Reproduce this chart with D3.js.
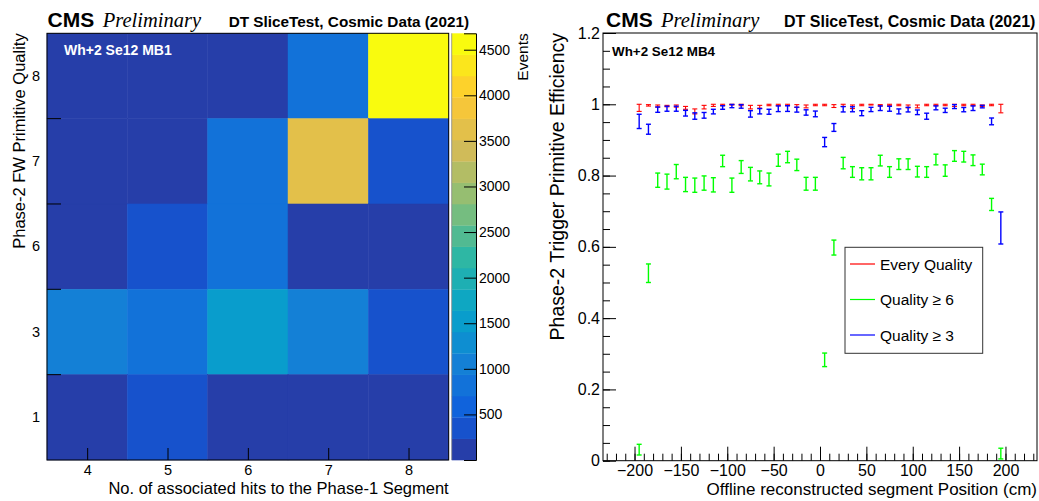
<!DOCTYPE html>
<html>
<head>
<meta charset="utf-8">
<script src="https://cdn.jsdelivr.net/npm/d3@7"></script>
<style>
  body { margin: 0; background: #fff; }
  svg { display: block; font-family: "Liberation Sans", Arial, Helvetica, sans-serif; }
</style>
</head>
<body>
<svg id="chart" width="1039" height="501"></svg>
<script>
// ---- Left panel: hits vs quality (events per cell) ----
const hitBins = [4, 5, 6, 7, 8];
const qualityLabels = ["8", "7", "6", "3", "1"];
// one row per quality label, one column per hit bin
const events = [
  [60, 40, 110, 820, 4680],
  [30, 90, 800, 3650, 380],
  [20, 340, 850, 150, 180],
  [1050, 780, 1520, 1080, 330],
  [40, 360, 120, 90, 140],
];
const eventsMax = 4680;
const colorTicks = [500, 1000, 1500, 2000, 2500, 3000, 3500, 4000, 4500];

// ---- Right panel: efficiency vs segment position ----
const positions = [-195, -185, -175, -165, -155, -145, -135, -125, -115, -105,
  -95, -85, -75, -65, -55, -45, -35, -25, -15, -5,
  5, 15, 25, 35, 45, 55, 65, 75, 85, 95,
  105, 115, 125, 135, 145, 155, 165, 175, 185, 195];

const effEvery = [0.990, 0.997, 0.995, 0.995, 0.995, 0.990, 0.980, 0.992, 0.997, 0.998,
  0.999, 0.998, 0.992, 0.993, 0.998, 0.998, 0.998, 0.995, 0.994, 0.998,
  0.998, 0.995, 0.997, 0.993, 0.998, 0.999, 0.997, 0.998, 0.998, 0.994,
  0.994, 0.998, 0.998, 0.998, 0.997, 0.998, 0.998, 0.996, 0.998, 0.988];
const errEvery = [0.010, 0.002, 0.003, 0.002, 0.003, 0.004, 0.007, 0.005, 0.003, 0.002,
  0.001, 0.002, 0.005, 0.004, 0.002, 0.002, 0.002, 0.004, 0.004, 0.002,
  0.002, 0.004, 0.003, 0.005, 0.002, 0.001, 0.002, 0.002, 0.002, 0.004,
  0.004, 0.002, 0.002, 0.002, 0.003, 0.002, 0.002, 0.002, 0.002, 0.012];

const effQ6 = [0.031, 0.526, 0.787, 0.783, 0.811, 0.775, 0.773, 0.779, 0.774, 0.841,
  0.773, 0.824, 0.804, 0.795, 0.789, 0.843, 0.852, 0.830, 0.777, 0.777,
  0.283, 0.598, 0.835, 0.810, 0.805, 0.805, 0.842, 0.810, 0.832, 0.832,
  0.811, 0.810, 0.845, 0.814, 0.855, 0.853, 0.843, 0.817, 0.719, 0.020];
const errQ6 = [0.015, 0.026, 0.020, 0.021, 0.020, 0.020, 0.020, 0.020, 0.020, 0.016,
  0.020, 0.018, 0.019, 0.018, 0.018, 0.017, 0.016, 0.016, 0.018, 0.018,
  0.019, 0.021, 0.016, 0.015, 0.017, 0.017, 0.015, 0.015, 0.015, 0.015,
  0.015, 0.015, 0.015, 0.016, 0.015, 0.015, 0.015, 0.015, 0.017, 0.015];

const effQ3 = [0.952, 0.930, 0.985, 0.9875, 0.9875, 0.975, 0.967, 0.969, 0.9795, 0.991,
  0.995, 0.994, 0.973, 0.9805, 0.979, 0.9875, 0.988, 0.985, 0.977, 0.973,
  0.894, 0.935, 0.986, 0.986, 0.975, 0.9855, 0.989, 0.9875, 0.980, 0.985,
  0.9775, 0.9665, 0.990, 0.983, 0.9935, 0.985, 0.989, 0.9935, 0.952, 0.653];
const errQ3 = [0.020, 0.014, 0.0075, 0.007, 0.007, 0.008, 0.009, 0.008, 0.0065, 0.005,
  0.0045, 0.005, 0.009, 0.0075, 0.007, 0.008, 0.008, 0.007, 0.0075, 0.008,
  0.013, 0.011, 0.0075, 0.007, 0.007, 0.006, 0.0065, 0.007, 0.007, 0.0065,
  0.0065, 0.0085, 0.0055, 0.006, 0.0055, 0.006, 0.0065, 0.0035, 0.0095, 0.045];

const seriesNames = ["Every Quality", "Quality \u2265 6", "Quality \u2265 3"];
const seriesColors = ["#ff0000", "#00ff00", "#0000ff"];

const posTicks = [-200, -150, -100, -50, 0, 50, 100, 150, 200];
const effTicks = [0, 0.2, 0.4, 0.6, 0.8, 1, 1.2];

// ROOT kBird palette stops
const birdStops = [0.0, 0.125, 0.25, 0.375, 0.5, 0.625, 0.75, 0.875, 1.0];
const birdRed = [0.2082, 0.0592, 0.0780, 0.0232, 0.1802, 0.5301, 0.8186, 0.9956, 0.9764];
const birdGreen = [0.1664, 0.3599, 0.5041, 0.6419, 0.7178, 0.7492, 0.7328, 0.7862, 0.9832];
const birdBlue = [0.5293, 0.8684, 0.8385, 0.7914, 0.6425, 0.4662, 0.3499, 0.1968, 0.0539];

const svg = d3.select("#chart");
const font = "\"Liberation Sans\", Arial, Helvetica, sans-serif";

//Palette with 20 contour levels like ROOT's COLZ
const birdScale = d3.scaleLinear()
  .domain(birdStops)
  .range(birdStops.map((s, i) => d3.rgb(birdRed[i] * 255, birdGreen[i] * 255, birdBlue[i] * 255)))
  .interpolate(d3.interpolateRgb);
const nContours = 20;
const contourOf = (v) => Math.min(nContours - 1, Math.floor((v / eventsMax) * nContours));
const contourColor = (k) => birdScale((k + 0.99) / nContours);

// ================= LEFT PANEL =================
const L = { x0: 47, x1: 448.7, y0: 33.3, y1: 460 };
const xHits = d3.scaleLinear().domain([3.5, 8.5]).range([L.x0, L.x1]);
const yQual = d3.scaleBand().domain(qualityLabels).range([L.y0, L.y1]);

const cells = [];
qualityLabels.forEach((q, r) => hitBins.forEach((h, c) => cells.push({ q, h, v: events[r][c] })));

svg.append("g")
  .selectAll("rect")
  .data(cells)
  .enter()
  .append("rect")
  .attr("x", (d) => xHits(d.h - 0.5))
  .attr("y", (d) => yQual(d.q))
  .attr("width", (d) => xHits(d.h + 0.5) - xHits(d.h - 0.5))
  .attr("height", yQual.bandwidth())
  .attr("fill", (d) => contourColor(contourOf(d.v)))
  .attr("stroke", (d) => contourColor(contourOf(d.v)))
  .attr("stroke-width", 0.5);

// frame
svg.append("rect")
  .attr("x", L.x0).attr("y", L.y0)
  .attr("width", L.x1 - L.x0).attr("height", L.y1 - L.y0)
  .attr("fill", "none").attr("stroke", "#000").attr("stroke-width", 1);

// x axis
const xHitsAxis = svg.append("g")
  .attr("transform", `translate(0,${L.y1})`)
  .call(d3.axisBottom(xHits).tickValues(hitBins).tickSize(-12).tickPadding(5).tickFormat(d3.format("d")));
xHitsAxis.select(".domain").remove();

// y axis labels at row centres, ticks at row boundaries
const yQualAxis = svg.append("g")
  .attr("transform", `translate(${L.x0},0)`)
  .call(d3.axisLeft(yQual).tickSize(0).tickPadding(7));
yQualAxis.select(".domain").remove();
svg.append("g")
  .selectAll("line")
  .data(qualityLabels.slice(1))
  .enter()
  .append("line")
  .attr("x1", L.x0).attr("x2", L.x0 + 14)
  .attr("y1", (d) => yQual(d)).attr("y2", (d) => yQual(d))
  .attr("stroke", "#000");

[xHitsAxis, yQualAxis].forEach((a) =>
  a.selectAll("text").attr("font-size", "14.5px").attr("font-family", font).attr("fill", "#000"));

// colour bar
const Z = { x0: 451.7, x1: 476 };
const zScale = d3.scaleLinear().domain([0, eventsMax]).range([L.y1, L.y0]);
svg.append("g")
  .selectAll("rect")
  .data(d3.range(nContours))
  .enter()
  .append("rect")
  .attr("x", Z.x0)
  .attr("width", Z.x1 - Z.x0)
  .attr("y", (k) => zScale(((k + 1) * eventsMax) / nContours))
  .attr("height", (k) => zScale((k * eventsMax) / nContours) - zScale(((k + 1) * eventsMax) / nContours) + 0.3)
  .attr("fill", (k) => contourColor(k));
svg.append("line")
  .attr("x1", Z.x0).attr("x2", Z.x0).attr("y1", L.y0).attr("y2", L.y1)
  .attr("stroke", "#888").attr("stroke-width", 0.8);
const zAxis = svg.append("g")
  .attr("transform", `translate(${Z.x1},0)`)
  .call(d3.axisRight(zScale).tickValues(colorTicks).tickSize(-12).tickPadding(3).tickFormat(d3.format("d")));
zAxis.select(".domain").attr("stroke", "#000");
zAxis.selectAll("text").attr("font-size", "14px").attr("font-family", font).attr("fill", "#000");

svg.append("text")
  .attr("transform", `translate(527.5,${L.y0}) rotate(-90)`)
  .attr("text-anchor", "end")
  .attr("font-size", "15.5px")
  .text("Events");

// titles
svg.append("text")
  .attr("x", L.x1).attr("y", 494)
  .attr("text-anchor", "end")
  .attr("font-size", "16.5px")
  .text("No. of associated hits to the Phase-1 Segment");
svg.append("text")
  .attr("transform", `translate(24.5,${L.y0}) rotate(-90)`)
  .attr("text-anchor", "end")
  .attr("font-size", "16.5px")
  .text("Phase-2 FW Primitive Quality");

svg.append("text")
  .attr("x", 64).attr("y", 55)
  .attr("font-size", "14px").attr("font-weight", "bold").attr("fill", "#fff")
  .text("Wh+2 Se12 MB1");

// header helper
const header = (xCms, xPre, xDt, dtSize) => {
  svg.append("text").attr("x", xCms).attr("y", 27)
    .attr("font-size", "21px").attr("font-weight", "bold").text("CMS");
  svg.append("text").attr("x", xPre).attr("y", 27)
    .attr("font-family", "\"Liberation Serif\", \"Times New Roman\", serif")
    .attr("font-style", "italic").attr("font-size", "20.5px").text("Preliminary");
  svg.append("text").attr("x", xDt).attr("y", 27)
    .attr("font-size", dtSize).attr("font-weight", "bold").text("DT SliceTest, Cosmic Data (2021)");
};
header(47.5, 102.7, 228.7, "15.3px");

// ================= RIGHT PANEL =================
const R = { x0: 603, x1: 1037, y0: 33, y1: 460.7 };
const xPos = d3.scaleLinear().domain([-234, 234]).range([R.x0, R.x1]);
const yEff = d3.scaleLinear().domain([0, 1.2]).range([R.y1, R.y0]);

svg.append("rect")
  .attr("x", R.x0).attr("y", R.y0)
  .attr("width", R.x1 - R.x0).attr("height", R.y1 - R.y0)
  .attr("fill", "none").attr("stroke", "#000").attr("stroke-width", 1);

const xPosAxis = svg.append("g")
  .attr("transform", `translate(0,${R.y1})`)
  .call(d3.axisBottom(xPos).tickValues(posTicks).tickSize(-14).tickPadding(3.5).tickFormat(d3.format("d")));
const xPosMinor = svg.append("g")
  .attr("transform", `translate(0,${R.y1})`)
  .call(d3.axisBottom(xPos).tickValues(d3.range(-230, 231, 10)).tickSize(-7).tickFormat(""));
const yEffAxis = svg.append("g")
  .attr("transform", `translate(${R.x0},0)`)
  .call(d3.axisLeft(yEff).tickValues(effTicks).tickSize(-13).tickPadding(3).tickFormat(d3.format("~g")));
const yEffMinor = svg.append("g")
  .attr("transform", `translate(${R.x0},0)`)
  .call(d3.axisLeft(yEff).tickValues(d3.range(0, 1.2001, 0.05)).tickSize(-7).tickFormat(""));
[xPosAxis, xPosMinor, yEffAxis, yEffMinor].forEach((a) => a.select(".domain").remove());
[xPosAxis, yEffAxis].forEach((a) =>
  a.selectAll("text").attr("font-size", "16px").attr("font-family", font).attr("fill", "#000"));

// error bars
const series = [
  { eff: effEvery, err: errEvery },
  { eff: effQ6, err: errQ6 },
  { eff: effQ3, err: errQ3 },
];
const cap = 2.5;
series.forEach((s, si) => {
  const pts = positions.map((p, i) => ({
    x: xPos(p),
    lo: yEff(Math.max(0, s.eff[i] - s.err[i])),
    hi: yEff(Math.min(1, s.eff[i] + s.err[i])),
  }));
  const g = svg.append("g")
    .attr("stroke", seriesColors[si])
    .attr("stroke-width", si === 0 ? 1.1 : 1.4)
    .attr("fill", "none");
  const bars = g.selectAll("g").data(pts).enter().append("g");
  bars.append("line").attr("x1", (d) => d.x).attr("x2", (d) => d.x).attr("y1", (d) => d.lo).attr("y2", (d) => d.hi);
  bars.append("line").attr("x1", (d) => d.x - cap).attr("x2", (d) => d.x + cap).attr("y1", (d) => d.lo).attr("y2", (d) => d.lo);
  bars.append("line").attr("x1", (d) => d.x - cap).attr("x2", (d) => d.x + cap).attr("y1", (d) => d.hi).attr("y2", (d) => d.hi);
});

// legend
const leg = svg.append("g");
leg.append("rect")
  .attr("x", 845).attr("y", 247.3).attr("width", 137.7).attr("height", 106)
  .attr("fill", "#fff").attr("stroke", "#333").attr("stroke-width", 1);
const legItems = leg.selectAll("g.item")
  .data(seriesNames)
  .enter()
  .append("g")
  .attr("class", "item")
  .attr("transform", (d, i) => `translate(0,${264 + i * 35.5})`);
legItems.append("line")
  .attr("x1", 850).attr("x2", 875)
  .attr("stroke", (d, i) => seriesColors[i]).attr("stroke-width", 1.2);
legItems.append("text")
  .attr("x", 880).attr("dy", "0.36em")
  .attr("font-size", "15.5px")
  .text((d) => d);

// titles
svg.append("text")
  .attr("x", R.x1).attr("y", 495)
  .attr("text-anchor", "end")
  .attr("font-size", "17px")
  .text("Offline reconstructed segment Position (cm)");
svg.append("text")
  .attr("transform", `translate(564,${R.y0}) rotate(-90)`)
  .attr("text-anchor", "end")
  .attr("font-size", "19.5px")
  .text("Phase-2 Trigger Primitive Efficiency");
svg.append("text")
  .attr("x", 612).attr("y", 56)
  .attr("font-size", "13.4px").attr("font-weight", "bold")
  .text("Wh+2 Se12 MB4");

header(606, 661, 784, "16px");
</script>
</body>
</html>
